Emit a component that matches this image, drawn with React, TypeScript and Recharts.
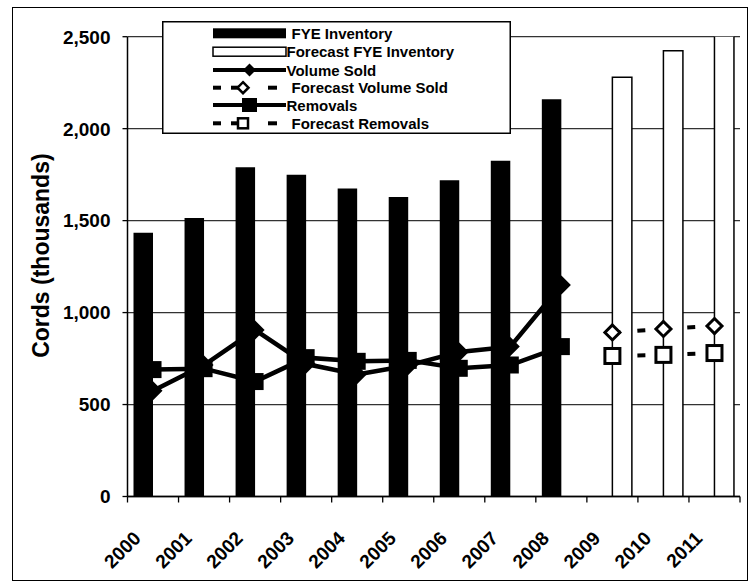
import React from 'react';
import {
  ComposedChart, Bar, Line, XAxis, YAxis, CartesianGrid, Legend,
} from 'recharts';

const years = ['2000', '2001', '2002', '2003', '2004', '2005', '2006', '2007', '2008', '2009', '2010', '2011'];
const fyeInventory = [1434, 1514, 1790, 1750, 1674, 1629, 1719, 1826, 2160, null, null, null];
const forecastInventory = [null, null, null, null, null, null, null, null, null, 2280, 2424, 2600];
const volumeSold = [575, 715, 905, 720, 663, 712, 786, 815, 1150, null, null, null];
const removals = [690, 695, 625, 755, 735, 740, 697, 715, 815, null, null, null];
const forecastSold = [null, null, null, null, null, null, null, null, null, 892, 911, 927];
const forecastRemovals = [null, null, null, null, null, null, null, null, null, 764, 770, 780];
const yTicks = [0, 500, 1000, 1500, 2000, 2500];

const legendItems = [
  { label: 'FYE Inventory', kind: 'bar' },
  { label: 'Forecast FYE Inventory', kind: 'forecastBar' },
  { label: 'Volume Sold', kind: 'diamond' },
  { label: 'Forecast Volume Sold', kind: 'forecastDiamond' },
  { label: 'Removals', kind: 'square' },
  { label: 'Forecast Removals', kind: 'forecastSquare' },
];

const data = years.map((year, i) => ({
  year,
  inventory: fyeInventory[i],
  forecast: forecastInventory[i],
  sold: volumeSold[i],
  removals: removals[i],
  forecastSold: forecastSold[i],
  forecastRemovals: forecastRemovals[i],
}));

const FONT = '"Liberation Sans", Arial, Helvetica, sans-serif';
const PLOT_LEFT = 127.5;
const PLOT_RIGHT = 740;
const BAND = (PLOT_RIGHT - PLOT_LEFT) / years.length;

const fmt = (v: number) => v.toLocaleString('en-US');

function diamondPath(cx: number, cy: number, r: number) {
  return `M${cx} ${cy - r} L${cx + r} ${cy} L${cx} ${cy + r} L${cx - r} ${cy} Z`;
}

// eslint-disable-next-line @typescript-eslint/no-explicit-any
const solidDiamond = (p: any) => {
  if (p.value == null || p.cy == null) return <g key={`sd-${p.index}`} />;
  return <path key={`sd-${p.index}`} d={diamondPath(p.cx, p.cy, 9.5)} fill="#000" />;
};

// eslint-disable-next-line @typescript-eslint/no-explicit-any
const solidSquare = (p: any) => {
  if (p.value == null || p.cy == null) return <g key={`ss-${p.index}`} />;
  return <rect key={`ss-${p.index}`} x={p.cx - 8.5} y={p.cy - 8.5} width={17} height={17} fill="#000" />;
};

// eslint-disable-next-line @typescript-eslint/no-explicit-any
const hollowDiamond = (p: any) => {
  if (p.value == null || p.cy == null) return <g key={`hd-${p.index}`} />;
  return <path key={`hd-${p.index}`} d={diamondPath(p.cx, p.cy, 7.5)} fill="#fff" stroke="#000" strokeWidth={3} />;
};

// eslint-disable-next-line @typescript-eslint/no-explicit-any
const hollowSquare = (p: any) => {
  if (p.value == null || p.cy == null) return <g key={`hs-${p.index}`} />;
  return <rect key={`hs-${p.index}`} x={p.cx - 7.5} y={p.cy - 7.5} width={15} height={15} fill="#fff" stroke="#000" strokeWidth={3} />;
};

// eslint-disable-next-line @typescript-eslint/no-explicit-any
function XTick({ x, y, payload, index }: any) {
  const ax = x - 11;
  const ay = y + 43;
  return (
    <g>
      <line x1={x - BAND / 2} x2={x - BAND / 2} y1={y} y2={y + 6} stroke="#000" strokeWidth={1.3} />
      {index === years.length - 1 && (
        <line x1={x + BAND / 2} x2={x + BAND / 2} y1={y} y2={y + 6} stroke="#000" strokeWidth={1.3} />
      )}
      <text
        x={ax} y={ay} textAnchor="end" transform={`rotate(-45 ${ax} ${ay})`}
        fontFamily={FONT} fontWeight="bold" fontSize={19} fill="#000"
      >
        {payload.value}
      </text>
    </g>
  );
}

// eslint-disable-next-line @typescript-eslint/no-explicit-any
function YTick({ x, y, payload }: any) {
  return (
    <text x={x} y={y} dy="0.36em" textAnchor="end" fontFamily={FONT} fontWeight="bold" fontSize={19} fill="#000">
      {fmt(payload.value)}
    </text>
  );
}

// eslint-disable-next-line @typescript-eslint/no-explicit-any
function YLabel({ viewBox }: any) {
  const cx = viewBox.x + 14;
  const cy = viewBox.y + viewBox.height / 2 - 11;
  return (
    <text
      x={cx} y={cy} textAnchor="middle" dominantBaseline="central"
      transform={`rotate(-90 ${cx} ${cy})`}
      fontFamily={FONT} fontWeight="bold" fontSize={23} fill="#000"
    >
      Cords (thousands)
    </text>
  );
}

function LegendSymbol({ kind, cy }: { kind: string; cy: number }) {
  const x0 = 51;
  const x1 = 124;
  const mid = (x0 + x1) / 2;
  switch (kind) {
    case 'bar':
      return <rect x={x0} y={cy - 5} width={x1 - x0} height={10} fill="#000" />;
    case 'forecastBar':
      return <rect x={x0} y={cy - 4.5} width={x1 - x0} height={9} fill="#fff" stroke="#000" strokeWidth={1.5} />;
    case 'diamond':
      return (
        <g>
          <line x1={x0} x2={x1} y1={cy} y2={cy} stroke="#000" strokeWidth={4} />
          <path d={diamondPath(mid, cy, 6.5)} fill="#000" />
        </g>
      );
    case 'square':
      return (
        <g>
          <line x1={x0} x2={x1} y1={cy} y2={cy} stroke="#000" strokeWidth={4} />
          <rect x={mid - 7.5} y={cy - 7} width={15} height={14} fill="#000" />
        </g>
      );
    default: {
      const isDiamond = kind === 'forecastDiamond';
      return (
        <g>
          <line x1={x0} x2={x0 + 8} y1={cy} y2={cy} stroke="#000" strokeWidth={4} />
          <line x1={x0 + 18} x2={x0 + 26} y1={cy} y2={cy} stroke="#000" strokeWidth={4} />
          <line x1={x0 + 55} x2={x0 + 64} y1={cy} y2={cy} stroke="#000" strokeWidth={4} />
          {isDiamond
            ? <path d={diamondPath(x0 + 30, cy, 5.5)} fill="#fff" stroke="#000" strokeWidth={2.5} />
            : <rect x={x0 + 25} y={cy - 5} width={10} height={10} fill="#fff" stroke="#000" strokeWidth={2.5} />}
        </g>
      );
    }
  }
}

function renderLegend() {
  const rowY = [12.3, 30.7, 49, 66.7, 84, 102.3];
  return (
    <svg width={349} height={113} style={{ display: 'block' }}>
      <rect x={0.75} y={0.75} width={347.5} height={111.5} fill="#fff" stroke="#000" strokeWidth={1.5} />
      {legendItems.map((item, i) => {
        const shifted = item.kind === 'bar' || item.kind.startsWith('forecastD') || item.kind.startsWith('forecastS');
        return (
          <g key={item.label}>
            <LegendSymbol kind={item.kind} cy={rowY[i]} />
            <text
              x={shifted ? 129.5 : 124.5} y={rowY[i]} dominantBaseline="central"
              fontFamily={FONT} fontWeight="bold" fontSize={15} fill="#000"
            >
              {item.label}
            </text>
          </g>
        );
      })}
    </svg>
  );
}

// eslint-disable-next-line @typescript-eslint/no-explicit-any
function YLabelWrap(props: any) {
  return <YLabel viewBox={props.viewBox} />;
}

export default function App() {
  return (
    <div style={{ position: 'absolute', left: 0, top: 0, width: 751, height: 584, background: '#fff' }}>
      <div
        style={{
          position: 'absolute', left: 12, top: 7, width: 736, height: 574,
          border: '1.5px solid #000', boxSizing: 'border-box',
        }}
      />
      <div style={{ position: 'absolute', left: 0, top: 0 }}>
        <ComposedChart
          width={751} height={584} data={data}
          margin={{ top: 36.7, right: 751 - PLOT_RIGHT, bottom: 27.5, left: 27.5 }}
          barSize={19.5} barGap={0}
        >
          <CartesianGrid vertical={false} stroke="#333" strokeWidth={1.3} />
          <XAxis
            dataKey="year" height={60} tickSize={0} tickMargin={0}
            axisLine={{ stroke: '#000', strokeWidth: 1.5 }} tickLine={false}
            tick={<XTick />} interval={0}
          />
          <YAxis
            width={100} domain={[0, 2500]} ticks={yTicks} allowDataOverflow
            axisLine={{ stroke: '#000', strokeWidth: 1.5 }}
            tickLine={{ stroke: '#000', strokeWidth: 1.3 }} tickSize={5} tickMargin={12}
            tick={<YTick />} label={<YLabelWrap />}
          />
          <YAxis
            yAxisId="frame" orientation="right" width={0} domain={[0, 2500]}
            axisLine={{ stroke: '#000', strokeWidth: 1.5 }} tick={false} tickLine={false}
          />
          <Legend
            layout="vertical" align="center" verticalAlign="middle"
            content={renderLegend}
            wrapperStyle={{ left: 162, top: 21, width: 349, height: 113 }}
          />
          <Bar dataKey="inventory" name="FYE Inventory" fill="#000" isAnimationActive={false} />
          <Bar
            dataKey="forecast" name="Forecast FYE Inventory" fill="#fff" stroke="#000" strokeWidth={1.5}
            isAnimationActive={false}
          />
          <Line
            dataKey="sold" name="Volume Sold" type="linear" stroke="#000" strokeWidth={4.5}
            dot={solidDiamond} activeDot={false} isAnimationActive={false}
          />
          <Line
            dataKey="removals" name="Removals" type="linear" stroke="#000" strokeWidth={4.5}
            dot={solidSquare} activeDot={false} isAnimationActive={false}
          />
          <Line
            dataKey="forecastSold" name="Forecast Volume Sold" type="linear" stroke="#000" strokeWidth={4}
            strokeDasharray="8 17" dot={hollowDiamond} activeDot={false} isAnimationActive={false}
          />
          <Line
            dataKey="forecastRemovals" name="Forecast Removals" type="linear" stroke="#000" strokeWidth={4}
            strokeDasharray="8 17" dot={hollowSquare} activeDot={false} isAnimationActive={false}
          />
        </ComposedChart>
      </div>
    </div>
  );
}
